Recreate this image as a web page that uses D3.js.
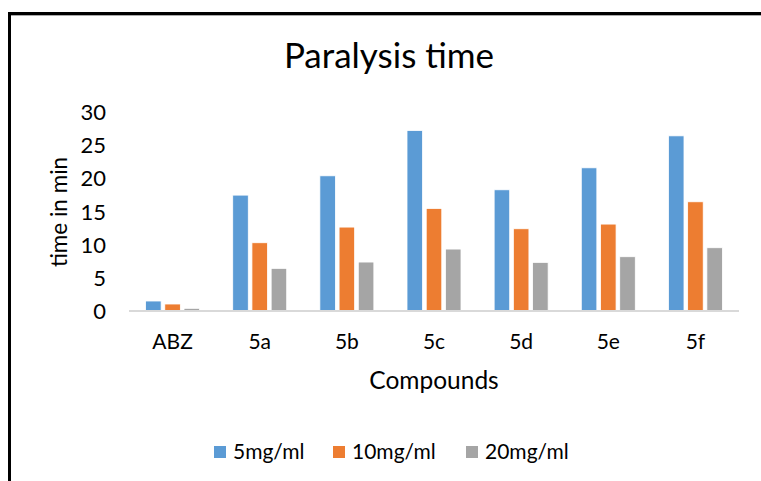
<!DOCTYPE html>
<html>
<head>
<meta charset="utf-8">
<script src="https://cdn.jsdelivr.net/npm/d3@7"></script>
<style>
  body { margin: 0; background: #fff; }
  svg { display: block; font-family: Lato, "Open Sans", sans-serif; }
</style>
</head>
<body>
<div id="chart"></div>
<script>
const compounds = ["ABZ", "5a", "5b", "5c", "5d", "5e", "5f"];
const seriesNames = ["5mg/ml", "10mg/ml", "20mg/ml"];
const dose5 = [1.5, 17.4, 20.3, 27.1, 18.2, 21.5, 26.3];
const dose10 = [1.05, 10.25, 12.6, 15.4, 12.35, 13.05, 16.4];
const dose20 = [0.4, 6.4, 7.35, 9.3, 7.3, 8.15, 9.5];
const yTicks = [0, 5, 10, 15, 20, 25, 30];
const colors = ["#5B9BD5", "#ED7D31", "#A5A5A5"];

const w = 761, h = 481;
const plotLeft = 129, plotRight = 739, plotTop = 111.2, plotBottom = 311;

const svg = d3.select("#chart").append("svg")
  .attr("width", w).attr("height", h);

// frame around the chart
svg.append("path")
  .attr("d", "M9.5,481 V13.5 H761")
  .attr("fill", "none")
  .attr("stroke", "#000")
  .attr("stroke-width", 3);
svg.append("line")
  .attr("x1", 11).attr("x2", 761).attr("y1", 15.5).attr("y2", 15.5)
  .attr("stroke", "#aaa").attr("stroke-width", 1);

const x0 = d3.scaleBand().domain(compounds).range([plotLeft, plotRight]).padding(0);
const x1 = d3.scaleBand().domain(seriesNames).range([-27, 27]).paddingInner(0.19);
const y = d3.scaleLinear().domain([0, 30]).range([plotBottom, plotTop]);

const data = compounds.map((c, i) => ({
  name: c,
  values: [dose5[i], dose10[i], dose20[i]]
}));

// title
svg.append("text")
  .attr("x", 389).attr("y", 68)
  .attr("text-anchor", "middle")
  .attr("font-size", 35)
  .attr("fill", "#000")
  .text("Paralysis time");

// y tick labels
const yAxis = d3.axisLeft(y).tickValues(yTicks).tickSize(0).tickPadding(0);
const gy = svg.append("g")
  .attr("transform", "translate(106,0)")
  .call(yAxis);
gy.select(".domain").remove();
gy.selectAll("text")
  .attr("font-size", 22)
  .attr("font-family", "Lato, sans-serif")
  .attr("fill", "#000")
  .attr("dy", "0.36em");

// bars
const groups = svg.selectAll("g.grp")
  .data(data)
  .enter()
  .append("g")
  .attr("class", "grp")
  .attr("transform", d => "translate(" + (x0(d.name) + x0.bandwidth() / 2) + ",0)");

groups.selectAll("rect")
  .data(d => d.values.map((v, j) => ({ s: seriesNames[j], v: v, j: j })))
  .enter()
  .append("rect")
  .attr("x", d => x1(d.s))
  .attr("y", d => y(d.v))
  .attr("width", x1.bandwidth())
  .attr("height", d => y(0) - y(d.v))
  .attr("fill", d => colors[d.j])
  .attr("stroke", "#fff")
  .attr("stroke-width", 0.8);

// baseline
svg.append("line")
  .attr("x1", plotLeft).attr("x2", plotRight)
  .attr("y1", y(0)).attr("y2", y(0))
  .attr("stroke", "#d9d9d9").attr("stroke-width", 2);

// x labels
const xAxis = d3.axisBottom(x0).tickSize(0).tickPadding(0);
const gx = svg.append("g")
  .attr("transform", "translate(0,349)")
  .call(xAxis);
gx.select(".domain").remove();
gx.selectAll("text")
  .attr("font-size", 21)
  .attr("font-family", "Lato, sans-serif")
  .attr("fill", "#000")
  .attr("dy", 0);

// axis titles
svg.append("text")
  .attr("x", 434).attr("y", 389)
  .attr("text-anchor", "middle")
  .attr("font-size", 24.5)
  .text("Compounds");

svg.append("text")
  .attr("transform", "translate(67,212) rotate(-90)")
  .attr("text-anchor", "middle")
  .attr("font-size", 22.5)
  .text("time in min");

// legend
const legendX = [214, 333, 466];
const leg = svg.selectAll("g.leg")
  .data(seriesNames)
  .enter()
  .append("g")
  .attr("class", "leg")
  .attr("transform", (d, i) => "translate(" + legendX[i] + ",446)");
leg.append("rect")
  .attr("width", 12).attr("height", 12)
  .attr("fill", (d, i) => colors[i]);
leg.append("text")
  .attr("x", 19).attr("y", 12.5)
  .attr("font-size", 21)
  .text(d => d);
</script>
</body>
</html>
